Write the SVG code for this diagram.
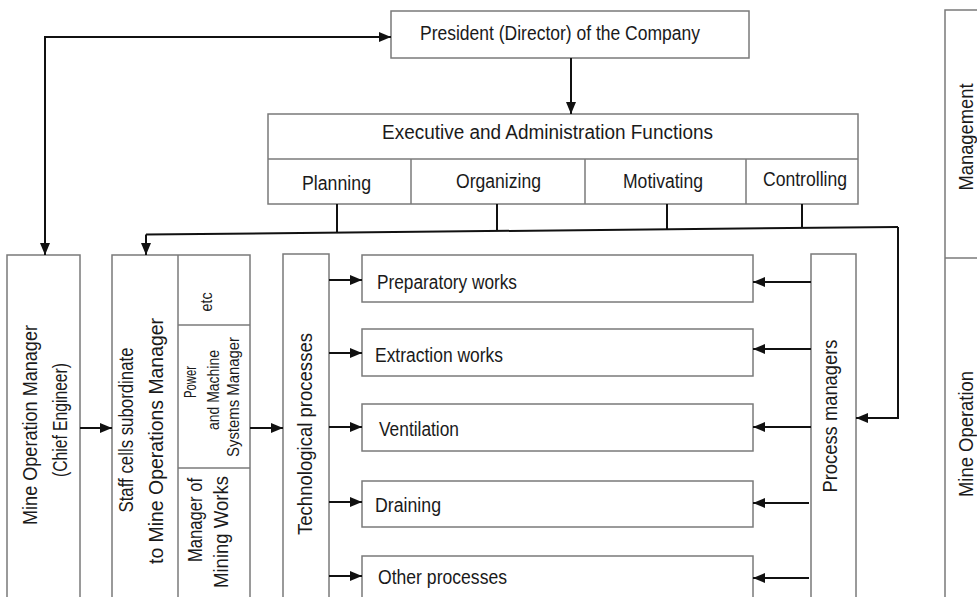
<svg xmlns="http://www.w3.org/2000/svg" width="977" height="597" viewBox="0 0 977 597">
<defs>
<style>
.box{fill:#fff;stroke:#7a7a7a;stroke-width:1.5}
.ln{fill:none;stroke:#7a7a7a;stroke-width:1.5}
.con{fill:none;stroke:#111;stroke-width:2}
.ar{fill:none;stroke:#111;stroke-width:2;marker-end:url(#ah)}
text{font-family:"Liberation Sans",Arial,sans-serif;font-size:20px;fill:#1a1a1a}
.sm{font-size:16px}
.v{text-anchor:middle}
</style>
<marker id="ah" markerWidth="12" markerHeight="10" refX="12" refY="5" orient="auto-start-reverse" markerUnits="userSpaceOnUse">
<path d="M0,0 L12,5 L0,10 z" fill="#111"/>
</marker>
</defs>
<rect width="977" height="597" fill="#fff"/>

<g id="president">
<rect class="box" x="391" y="11" width="358" height="47"/>
<text x="420" y="40" textLength="280" lengthAdjust="spacingAndGlyphs">President (Director) of the Company</text>
</g>

<g id="executive">
<rect class="box" x="268" y="114" width="590" height="90"/>
<line class="ln" x1="268" y1="159" x2="858" y2="159"/>
<line class="ln" x1="411" y1="159" x2="411" y2="204"/>
<line class="ln" x1="585" y1="159" x2="585" y2="204"/>
<line class="ln" x1="746" y1="159" x2="746" y2="204"/>
<text x="382" y="139" textLength="331" lengthAdjust="spacingAndGlyphs">Executive and Administration Functions</text>
<text x="302" y="190" textLength="69" lengthAdjust="spacingAndGlyphs">Planning</text>
<text x="456" y="188" textLength="85" lengthAdjust="spacingAndGlyphs">Organizing</text>
<text x="623" y="188" textLength="80" lengthAdjust="spacingAndGlyphs">Motivating</text>
<text x="763" y="186" textLength="84" lengthAdjust="spacingAndGlyphs">Controlling</text>
</g>

<g id="mine-operation-manager">
<rect class="box" x="7" y="255" width="73" height="360"/>
<text class="v" transform="translate(37,425) rotate(-90)" textLength="200" lengthAdjust="spacingAndGlyphs">Mine Operation Manager</text>
<text class="v" transform="translate(67,420) rotate(-90)" textLength="114" lengthAdjust="spacingAndGlyphs">(Chief Engineer)</text>
</g>

<g id="staff-cells">
<rect class="box" x="112" y="255" width="138" height="360"/>
<line class="ln" x1="178" y1="255" x2="178" y2="597"/>
<line class="ln" x1="178" y1="325" x2="250" y2="325"/>
<line class="ln" x1="178" y1="468" x2="250" y2="468"/>
<text class="v" transform="translate(133,430) rotate(-90)" textLength="165" lengthAdjust="spacingAndGlyphs">Staff cells subordinate</text>
<text class="v" transform="translate(163,441) rotate(-90)" textLength="246" lengthAdjust="spacingAndGlyphs">to Mine Operations Manager</text>
<text class="v sm" transform="translate(212,302) rotate(-90)" textLength="19" lengthAdjust="spacingAndGlyphs">etc</text>
<text class="v sm" transform="translate(196,382) rotate(-90)" textLength="32" lengthAdjust="spacingAndGlyphs">Power</text>
<text class="v sm" transform="translate(219,390) rotate(-90)" textLength="80" lengthAdjust="spacingAndGlyphs">and Machine</text>
<text class="v sm" transform="translate(239,397) rotate(-90)" textLength="120" lengthAdjust="spacingAndGlyphs">Systems Manager</text>
<text class="v" transform="translate(202,520) rotate(-90)" textLength="84" lengthAdjust="spacingAndGlyphs">Manager of</text>
<text class="v" transform="translate(228,532) rotate(-90)" textLength="112" lengthAdjust="spacingAndGlyphs">Mining Works</text>
</g>

<g id="technological-processes">
<rect class="box" x="283" y="254" width="46" height="360"/>
<text class="v" transform="translate(312,434) rotate(-90)" textLength="202" lengthAdjust="spacingAndGlyphs">Technological processes</text>
</g>

<g id="preparatory-works">
<rect class="box" x="362" y="255" width="391" height="47"/>
<text x="377" y="289" textLength="140" lengthAdjust="spacingAndGlyphs">Preparatory works</text>
</g>
<g id="extraction-works">
<rect class="box" x="362" y="329" width="391" height="47"/>
<text x="375" y="362" textLength="128" lengthAdjust="spacingAndGlyphs">Extraction works</text>
</g>
<g id="ventilation">
<rect class="box" x="362" y="404" width="391" height="47"/>
<text x="379" y="436" textLength="80" lengthAdjust="spacingAndGlyphs">Ventilation</text>
</g>
<g id="draining">
<rect class="box" x="362" y="481" width="391" height="46"/>
<text x="375" y="512" textLength="66" lengthAdjust="spacingAndGlyphs">Draining</text>
</g>
<g id="other-processes">
<rect class="box" x="362" y="556" width="391" height="60"/>
<text x="378" y="584" textLength="129" lengthAdjust="spacingAndGlyphs">Other processes</text>
</g>

<g id="process-managers">
<rect class="box" x="811" y="254" width="45" height="360"/>
<text class="v" transform="translate(837,416) rotate(-90)" textLength="153" lengthAdjust="spacingAndGlyphs">Process managers</text>
</g>

<g id="side-labels">
<rect class="box" x="945" y="10" width="60" height="610"/>
<line class="ln" x1="945" y1="258" x2="977" y2="258"/>
<text class="v" transform="translate(973,137) rotate(-90)" textLength="107" lengthAdjust="spacingAndGlyphs">Management</text>
<text class="v" transform="translate(973,434) rotate(-90)" textLength="126" lengthAdjust="spacingAndGlyphs">Mine Operation</text>
</g>

<g id="connectors">
<path class="con" d="M45,255 L45,37 L391,37" style="marker-start:url(#ah);marker-end:url(#ah)"/>
<path class="ar" d="M571,58 L571,114"/>
<line class="con" x1="337" y1="204" x2="337" y2="232"/>
<line class="con" x1="497" y1="204" x2="497" y2="230"/>
<line class="con" x1="667" y1="204" x2="667" y2="229"/>
<line class="con" x1="802" y1="204" x2="802" y2="227"/>
<path class="con" d="M146,234.5 L898,227"/>
<path class="ar" d="M146,234.5 L146,255"/>
<path class="ar" d="M898,227 L898,418 L856,418"/>
<path class="ar" d="M80,428 L112,428"/>
<path class="ar" d="M250,428 L283,428"/>
<path class="ar" d="M329,280 L362,280"/>
<path class="ar" d="M329,353 L362,353"/>
<path class="ar" d="M329,427 L362,427"/>
<path class="ar" d="M329,502 L362,502"/>
<path class="ar" d="M329,576 L362,576"/>
<path class="ar" d="M811,282 L753,282"/>
<path class="ar" d="M811,349 L753,349"/>
<path class="ar" d="M811,427 L753,427"/>
<path class="ar" d="M809,503 L753,503"/>
<path class="ar" d="M809,578 L753,578"/>
</g>
</svg>
